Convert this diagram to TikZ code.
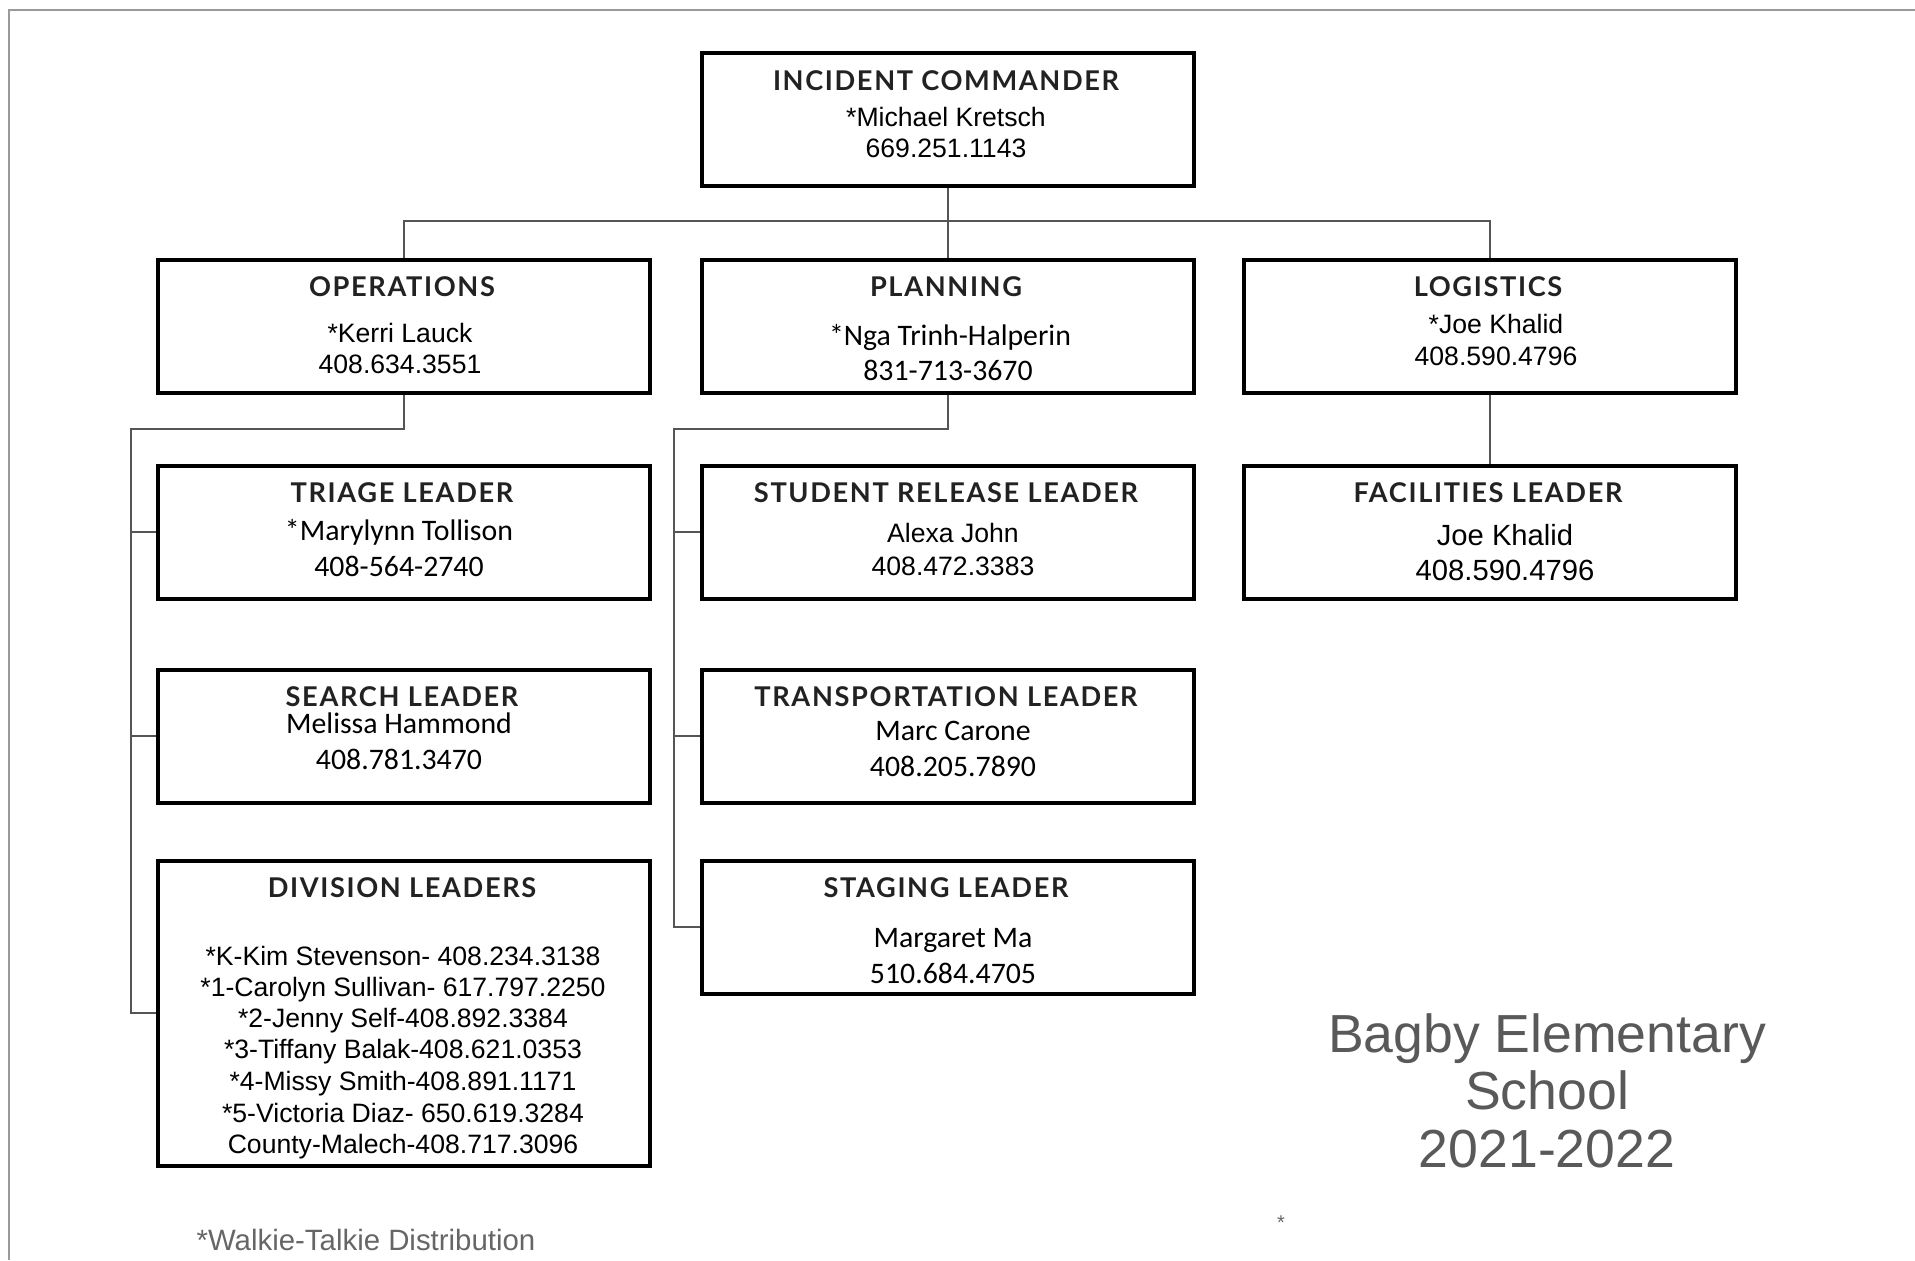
\documentclass[tikz,border=0pt]{standalone}
\usepackage{fontspec}
\setmainfont{Liberation Sans}
\newfontfamily\arialf{Liberation Sans}
\newfontfamily\calib{Carlito}
\newfontfamily\titlef{Lato}[LetterSpace=6]
\definecolor{conn}{HTML}{555555}
\definecolor{framec}{HTML}{9A9A9A}
\definecolor{titlec}{HTML}{222222}
\definecolor{schoolc}{HTML}{595959}
\definecolor{notec}{HTML}{666666}
\begin{document}
\begin{tikzpicture}[x=0.5pt,y=-0.5pt,
  orgbox/.style={draw=black, line width=1.8pt, minimum width=246pt, minimum height=66.5pt, inner sep=0pt, anchor=north west},
  con/.style={draw=conn, line width=1.1pt},
  ttl/.style={font=\titlef\bfseries\fontsize{13.6}{16}\selectfont, text=titlec, anchor=base, inner sep=0pt},
  nm/.style={font=\arialf\fontsize{13.3}{16}\selectfont, text=black, anchor=base, inner sep=0pt},
  nmbig/.style={font=\arialf\fontsize{14.6}{17}\selectfont, text=black, anchor=base, inner sep=0pt},
  cb/.style={font=\calib\fontsize{14.9}{17}\selectfont, text=black, anchor=base, inner sep=0pt}]
\useasboundingbox (0,0) rectangle (1915,1260);
% page frame
\draw[framec, line width=1.4pt] (9,1260) -- (9,10) -- (1915,10);

% boxes
\node[orgbox] (ic)   at (700,51)  {};
\node[orgbox] (ops)  at (156,258) {};
\node[orgbox] (plan) at (700,258) {};
\node[orgbox] (log)  at (1242,258) {};
\node[orgbox] (tri)  at (156,464) {};
\node[orgbox] (srl)  at (700,464) {};
\node[orgbox] (fac)  at (1242,464) {};
\node[orgbox] (sea)  at (156,668) {};
\node[orgbox] (tra)  at (700,668) {};
\node[orgbox, minimum height=152.5pt] (div) at (156,859) {};
\node[orgbox] (sta)  at (700,859) {};

% connectors
\coordinate (bus) at (946,221);
\coordinate (ojoin) at (131,429);
\coordinate (pjoin) at (674,429);
\draw[con] (ic.south) -- (plan.north);
\draw[con] (ops.north) |- (bus) -| (log.north);
\draw[con] (ops.south) |- (ojoin) -- (ojoin |- div.west) -- (div.west);
\draw[con] (ojoin |- tri.west) -- (tri.west);
\draw[con] (ojoin |- sea.west) -- (sea.west);
\draw[con] (plan.south) |- (pjoin) -- (pjoin |- sta.west) -- (sta.west);
\draw[con] (pjoin |- srl.west) -- (srl.west);
\draw[con] (pjoin |- tra.west) -- (tra.west);
\draw[con] (log.south) -- (fac.north);

% texts
\node[ttl] (icT) at (946,90) {INCIDENT COMMANDER};
\node[nm]  (icN) at (946,126) {*Michael Kretsch};
\node[nm]  (icP) at (946,157) {669.251.1143};

\node[ttl] (opsT) at (402,296) {OPERATIONS};
\node[nm]  (opsN) at (400,342) {*Kerri Lauck};
\node[nm]  (opsP) at (400,373) {408.634.3551};

\node[ttl] (planT) at (946,296) {PLANNING};
\node[cb]  (planN) at (950,345) {*Nga Trinh-Halperin};
\node[cb]  (planP) at (948,380) {831-713-3670};

\node[ttl] (logT) at (1488,296) {LOGISTICS};
\node[nm]  (logN) at (1496,333) {*Joe Khalid};
\node[nm]  (logP) at (1496,365) {408.590.4796};

\node[ttl] (triT) at (402,502) {TRIAGE LEADER};
\node[cb]  (triN) at (399,540) {*Marylynn Tollison};
\node[cb]  (triP) at (399,576) {408-564-2740};

\node[ttl] (srlT) at (946,502) {STUDENT RELEASE LEADER};
\node[nm]  (srlN) at (953,542) {Alexa John};
\node[nm]  (srlP) at (953,575) {408.472.3383};

\node[ttl]   (facT) at (1488,502) {FACILITIES LEADER};
\node[nmbig] (facN) at (1505,545) {Joe Khalid};
\node[nmbig] (facP) at (1505,580) {408.590.4796};

\node[ttl] (seaT) at (402,706) {SEARCH LEADER};
\node[cb]  (seaN) at (399,733) {Melissa Hammond};
\node[cb]  (seaP) at (399,769) {408.781.3470};

\node[ttl] (traT) at (946,706) {TRANSPORTATION LEADER};
\node[cb]  (traN) at (953,740) {Marc Carone};
\node[cb]  (traP) at (953,776) {408.205.7890};

\node[ttl] (divT) at (402,897) {DIVISION LEADERS};
\node[nm] (d1) at (403,965)  {*K-Kim Stevenson- 408.234.3138};
\node[nm] (d2) at (403,996)  {*1-Carolyn Sullivan- 617.797.2250};
\node[nm] (d3) at (403,1027) {*2-Jenny Self-408.892.3384};
\node[nm] (d4) at (403,1058) {*3-Tiffany Balak-408.621.0353};
\node[nm] (d5) at (403,1090) {*4-Missy Smith-408.891.1171};
\node[nm] (d6) at (403,1122) {*5-Victoria Diaz- 650.619.3284};
\node[nm] (d7) at (403,1153) {County-Malech-408.717.3096};

\node[ttl] (staT) at (946,897) {STAGING LEADER};
\node[cb]  (staN) at (953,947) {Margaret Ma};
\node[cb]  (staP) at (953,983) {510.684.4705};

% school label (base = baseline of last line)
\node[font=\arialf\fontsize{26.8}{28.75}\selectfont, text=schoolc, align=center, anchor=base, inner sep=0pt] (school) at (1547,1167)
  {Bagby Elementary\\School\\2021-2022};
\node[font=\arialf\fontsize{10}{12}\selectfont, text=notec, inner sep=0pt] (star) at (1281,1223) {*};
\node[font=\arialf\fontsize{14.7}{17}\selectfont, text=notec, anchor=base, inner sep=0pt] (note) at (366,1250) {*Walkie-Talkie Distribution};
\end{tikzpicture}
\end{document}
